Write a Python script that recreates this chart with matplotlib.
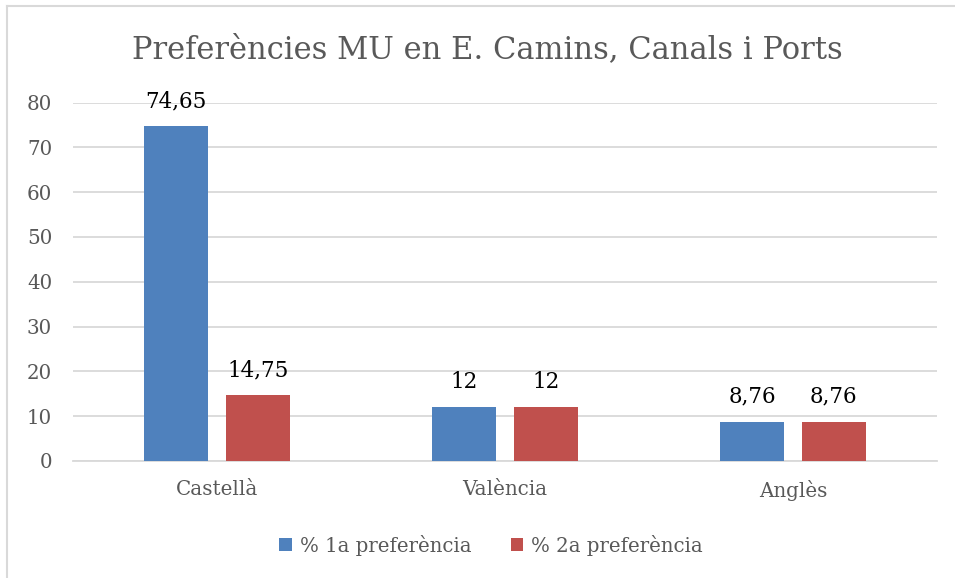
import numpy as np
import matplotlib.pyplot as plt
from matplotlib.lines import Line2D

categories = ['Castellà', 'València', 'Anglès']
pref1 = [74.65, 12, 8.76]
pref2 = [14.75, 12, 8.76]
labels1 = ['74,65', '12', '8,76']
labels2 = ['14,75', '12', '8,76']
series_names = ['% 1a preferència', '% 2a preferència']

plt.rcParams['font.family'] = 'DejaVu Serif'
grey = '#595959'

fig = plt.figure(figsize=(9.55, 5.78), dpi=100)
ax = fig.add_axes([73/955, 1 - 461/578, (937 - 73)/955, (461 - 102.5)/578])

x = np.arange(len(categories))
w = 0.222
off = 0.142
b1 = ax.bar(x - off, pref1, w, color='#4F81BD', label=series_names[0], zorder=3)
b2 = ax.bar(x + off, pref2, w, color='#C0504D', label=series_names[1], zorder=3)

# value labels above bars
for bars, labs in [(b1, labels1), (b2, labels2)]:
    for r, t in zip(bars, labs):
        ax.annotate(t, (r.get_x() + r.get_width()/2, r.get_height()),
                    xytext=(0, 10), textcoords='offset points',
                    ha='center', va='bottom', fontsize=15.5, color='black')

ax.set_xlim(-0.5, 2.5)
ax.set_ylim(0, 80)
ax.set_yticks(range(0, 81, 10))
ax.set_xticks(x)
ax.set_xticklabels(categories)
ax.yaxis.grid(True, color='#D9D9D9', linewidth=1.3, zorder=0)
ax.tick_params(axis='both', length=0, labelsize=14.3, colors=grey)
ax.tick_params(axis='y', pad=15)
ax.tick_params(axis='x', pad=14)
for s in ['top', 'right', 'left']:
    ax.spines[s].set_visible(False)
ax.spines['bottom'].set_color('#D9D9D9')
ax.spines['bottom'].set_linewidth(1.3)

fig.text(487/955, 1 - 50/578, 'Preferències MU en E. Camins, Canals i Ports',
         ha='center', va='center', fontsize=22, color=grey)

fig.legend(loc='center', bbox_to_anchor=(491/955, 1 - 545/578), ncol=2,
           frameon=False, fontsize=14.2, labelcolor=grey,
           handlelength=0.65, handleheight=0.65, handletextpad=0.4,
           columnspacing=2.0)

# chart border (left and top edges visible)
fig.add_artist(Line2D([7/955, 7/955], [0, 1 - 5.5/578], transform=fig.transFigure,
                      color='#D9D9D9', linewidth=1.5))
fig.add_artist(Line2D([7/955, 1], [1 - 5.5/578, 1 - 5.5/578], transform=fig.transFigure,
                      color='#D9D9D9', linewidth=1.5))

plt.savefig('out.png', dpi=100)
